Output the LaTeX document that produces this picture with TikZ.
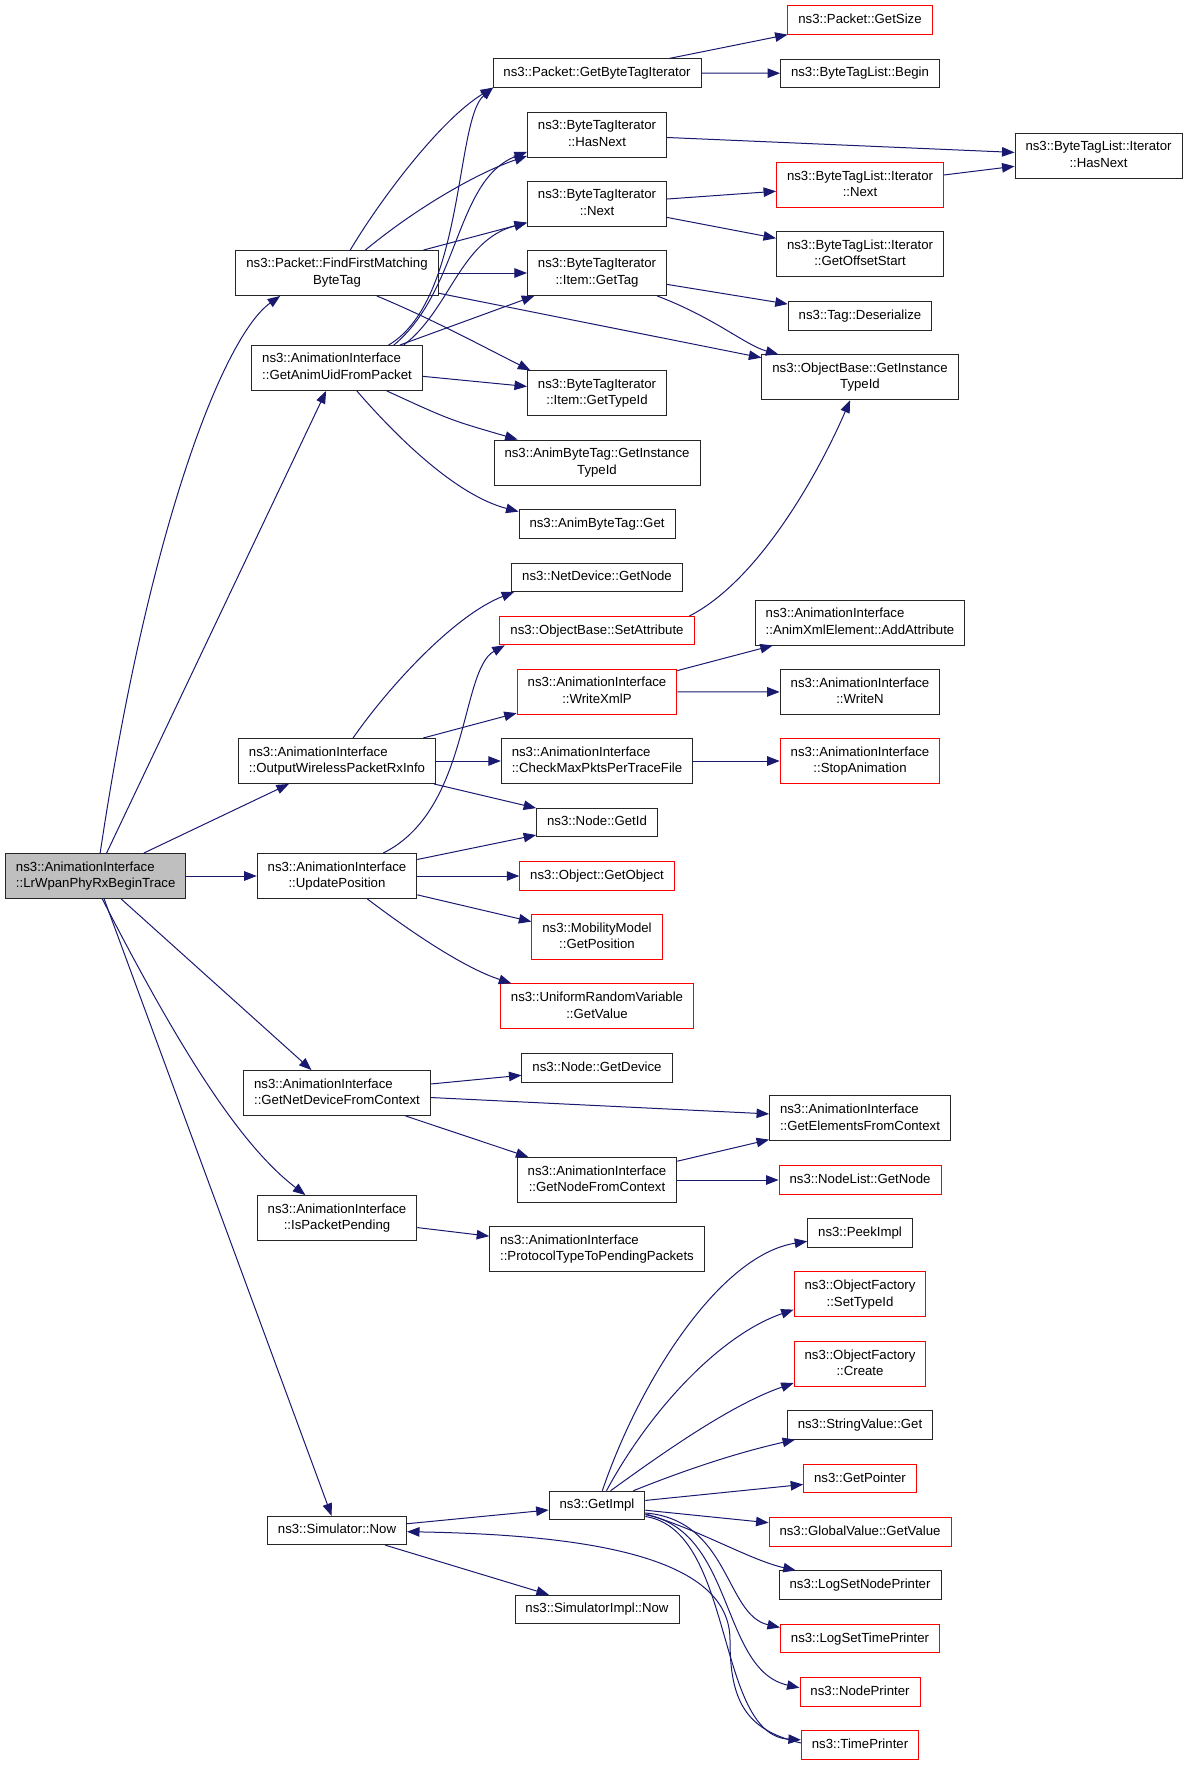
\documentclass[tikz,border=0pt]{standalone}
\usepackage{fontspec}
\setmainfont{Liberation Sans}
\usetikzlibrary{arrows.meta}
\definecolor{callblue}{HTML}{191970}
\definecolor{rootgray}{HTML}{BFBFBF}
\newcommand{\fnl}[2]{\begin{tabular}{@{}l@{}}#1\\\multicolumn{1}{@{}c@{}}{#2}\end{tabular}}
\begin{document}
\begin{tikzpicture}[x=1pt, y=-1pt,
    fnbox/.style={draw=black!85, line width=0.9pt, fill=white, inner xsep=10.5pt,
      inner ysep=5.8pt, font=\fontsize{13.2}{16.7}\selectfont,
      execute at begin node=\strut},
    redbox/.style={fnbox, draw=red},
    rootbox/.style={fnbox, fill=rootgray},
    call/.style={draw=callblue, line width=1pt, -{Triangle[length=12.5pt,width=9.5pt]}}
  ]
  \useasboundingbox (0,0) rectangle (1189,1765);
  \node[rootbox] (root) at (95.7,876) {\fnl{ns3::AnimationInterface}{::LrWpanPhyRxBeginTrace}};
  \foreach \nm/\x/\y/\txt in {%
    ffm/337/273/{\fnl{ns3::Packet::FindFirstMatching}{ByteTag}},
    ganim/337/368/{\fnl{ns3::AnimationInterface}{::GetAnimUidFromPacket}},
    owp/337/761/{\fnl{ns3::AnimationInterface}{::OutputWirelessPacketRxInfo}},
    up/337/876/{\fnl{ns3::AnimationInterface}{::UpdatePosition}},
    gndc/337/1093/{\fnl{ns3::AnimationInterface}{::GetNetDeviceFromContext}},
    ipp/337/1218/{\fnl{ns3::AnimationInterface}{::IsPacketPending}},
    sn/337/1530.5/{ns3::Simulator::Now},
    gbti/597/73/{ns3::Packet::GetByteTagIterator},
    hn/597/134.5/{\fnl{ns3::ByteTagIterator}{::HasNext}},
    btn/597/204/{\fnl{ns3::ByteTagIterator}{::Next}},
    igt/597/273/{\fnl{ns3::ByteTagIterator}{::Item::GetTag}},
    igti/597/393.3/{\fnl{ns3::ByteTagIterator}{::Item::GetTypeId}},
    abgit/597/462.5/{\fnl{ns3::AnimByteTag::GetInstance}{TypeId}},
    abg/597/524/{ns3::AnimByteTag::Get},
    ndgn/597/577.3/{ns3::NetDevice::GetNode},
    cmp/597/761/{\fnl{ns3::AnimationInterface}{::CheckMaxPktsPerTraceFile}},
    gid/597/822.5/{ns3::Node::GetId},
    ngd/597/1068/{ns3::Node::GetDevice},
    gnfc/597/1180/{\fnl{ns3::AnimationInterface}{::GetNodeFromContext}},
    ptp/597/1249/{\fnl{ns3::AnimationInterface}{::ProtocolTypeToPendingPackets}},
    gi/597/1505.3/{ns3::GetImpl},
    sin/597/1609.3/{ns3::SimulatorImpl::Now},
    blb/860/73.3/{ns3::ByteTagList::Begin},
    gos/860/254.3/{\fnl{ns3::ByteTagList::Iterator}{::GetOffsetStart}},
    tds/860/315.8/{ns3::Tag::Deserialize},
    obgit/860/377.3/{\fnl{ns3::ObjectBase::GetInstance}{TypeId}},
    aa/860/622.5/{\fnl{ns3::AnimationInterface}{::AnimXmlElement::AddAttribute}},
    wn/860/692/{\fnl{ns3::AnimationInterface}{::WriteN}},
    gefc/860/1118.3/{\fnl{ns3::AnimationInterface}{::GetElementsFromContext}},
    pi/860/1233/{ns3::PeekImpl},
    svg/860/1425/{ns3::StringValue::Get},
    lsnp/860/1585/{ns3::LogSetNodePrinter},
    bhn/1098.5/156/{\fnl{ns3::ByteTagList::Iterator}{::HasNext}}%
  }{
    \node[fnbox] (\nm) at (\x,\y) {\txt};
  }
  \foreach \nm/\x/\y/\txt in {%
    gs/860/20/{ns3::Packet::GetSize},
    bn/860/185.3/{\fnl{ns3::ByteTagList::Iterator}{::Next}},
    sa/597/630.7/{ns3::ObjectBase::SetAttribute},
    wxp/597/691.7/{\fnl{ns3::AnimationInterface}{::WriteXmlP}},
    go/597/876/{ns3::Object::GetObject},
    mgp/597/937/{\fnl{ns3::MobilityModel}{::GetPosition}},
    urv/597/1006.3/{\fnl{ns3::UniformRandomVariable}{::GetValue}},
    sam/860/761/{\fnl{ns3::AnimationInterface}{::StopAnimation}},
    nlg/860/1180/{ns3::NodeList::GetNode},
    ost/860/1294.3/{\fnl{ns3::ObjectFactory}{::SetTypeId}},
    ocr/860/1364/{\fnl{ns3::ObjectFactory}{::Create}},
    gp/860/1478.7/{ns3::GetPointer},
    ggv/860/1532/{ns3::GlobalValue::GetValue},
    lstp/860/1638.7/{ns3::LogSetTimePrinter},
    np/860/1692/{ns3::NodePrinter},
    tp/860/1745/{ns3::TimePrinter}%
  }{
    \node[redbox] (\nm) at (\x,\y) {\txt};
  }
  \foreach \a/\b in {root/ganim, root/owp, root/up, root/gndc, root/sn,
    ffm/btn, ffm/igt, ffm/obgit, ganim/igt, ganim/igti,
    gbti/gs, gbti/blb, hn/bhn, btn/bn, btn/gos, bn/bhn, igt/tds,
    owp/wxp, owp/cmp, owp/gid, wxp/aa, wxp/wn, cmp/sam,
    up/gid, up/go, up/mgp, gndc/ngd, gndc/gefc, gndc/gnfc,
    gnfc/gefc, gnfc/nlg, ipp/ptp, sn/gi, sn/sin, gi/gp, gi/ggv}{
    \draw[call] (\a) -- (\b);
  }
  \draw[call] (root.79) .. controls (150,520) and (225,335) .. (ffm.202);
  \draw[call] (root.286) .. controls (180,1050) and (240,1145) .. (ipp.144);
  \draw[call] (ffm.60) .. controls (380,200) and (440,120) .. (gbti.188);
  \draw[call] (ffm.39) .. controls (420,205) and (480,172) .. (hn.197);
  \draw[call] (ffm.-30) .. controls (430,318) and (480,345) .. (igti.161);
  \draw[call] (ganim.24) .. controls (465,300) and (455,120) .. (gbti.188);
  \draw[call] (ganim.22) .. controls (460,290) and (455,180) .. (hn.194);
  \draw[call] (ganim.19.5) .. controls (450,310) and (460,240) .. (btn.195);
  \draw[call] (ganim) .. controls (450,420) .. (abgit);
  \draw[call] (ganim) .. controls (395,435) and (455,495) .. (abg.171);
  \draw[call] (igt) .. controls (715,318) and (745,345) .. (obgit);
  \draw[call] (sa.9) .. controls (760,580) and (820,470) .. (obgit);
  \draw[call] (up) .. controls (470,810) and (460,670) .. (sa.189);
  \draw[call] (owp) .. controls (390,685) and (455,615) .. (ndgn.190);
  \draw[call] (up) .. controls (415,935) and (465,968) .. (urv.165);
  \draw[call] (gi.70) .. controls (640,1380) and (720,1255) .. (pi);
  \draw[call] (gi.57) .. controls (650,1410) and (720,1335) .. (ost.193);
  \draw[call] (gi.47) .. controls (660,1455) and (730,1405) .. (ocr.196);
  \draw[call] (gi) .. controls (690,1468) and (740,1452) .. (svg);
  \draw[call] (gi.-10) .. controls (700,1530) and (750,1560) .. (lsnp);
  \draw[call] (gi.-9) .. controls (730,1520) and (725,1615) .. (lstp.172);
  \draw[call] (gi.-11) .. controls (735,1530) and (720,1670) .. (np.176);
  \draw[call] (gi.-13) .. controls (735,1530) and (715,1735) .. (tp.175);
  \draw[call] (tp.178) .. controls (745,1730) and (730,1700) .. (730,1640)
    .. controls (730,1560) and (600,1535) .. (sn);
\end{tikzpicture}
\end{document}
